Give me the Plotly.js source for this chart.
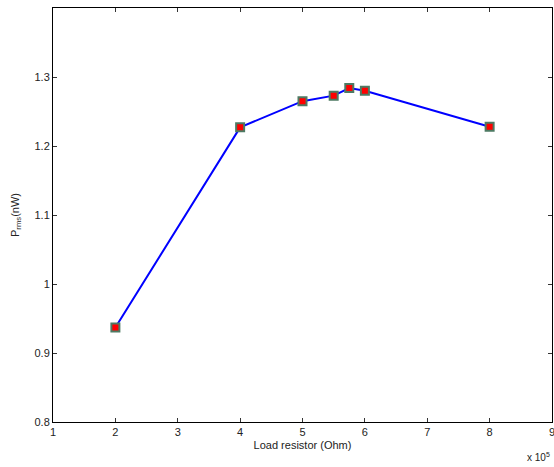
<!DOCTYPE html>
<html>
<head>
<meta charset="utf-8">
<script src="https://cdn.plot.ly/plotly-3.0.1.min.js"></script>
<style>html,body{margin:0;padding:0;background:#fff;}#chart{width:554px;height:467px;}</style>
</head>
<body>
<div id="chart"></div>
<script>
// Load resistor in units of 1e5 Ohm
var loadResistor = [2, 4, 5, 5.5, 5.75, 6, 8];
// RMS power (nW)
var powerRms = [0.937, 1.227, 1.265, 1.273, 1.284, 1.280, 1.228];
var xTicks = [1, 2, 3, 4, 5, 6, 7, 8, 9];
var yTicks = [0.8, 0.9, 1, 1.1, 1.2, 1.3];
var yTickLabels = ['0.8', '0.9', '1', '1.1', '1.2', '1.3'];

var trace = {
  x: loadResistor,
  y: powerRms,
  type: 'scatter',
  mode: 'lines+markers',
  line: {color: '#0000ff', width: 2},
  marker: {symbol: 'square', size: 8, color: '#ff0000', line: {color: '#4d7a63', width: 2}},
  showlegend: false
};

var axisCommon = {
  showline: true, linecolor: '#000', linewidth: 1, mirror: 'ticks',
  ticks: 'inside', ticklen: 4, tickcolor: '#333', showgrid: false, zeroline: false,
  ticklabeloverflow: 'allow',
  tickfont: {family: 'Liberation Sans, Arial, sans-serif', size: 11, color: '#222'}
};

var layout = {
  width: 554, height: 467,
  margin: {l: 53, r: 2, t: 8, b: 45},
  paper_bgcolor: '#fff', plot_bgcolor: '#fff',
  font: {family: 'Liberation Sans, Arial, sans-serif', size: 11, color: '#222'},
  xaxis: Object.assign({}, axisCommon, {
    range: [1, 9], tickmode: 'array', tickvals: xTicks,
    title: {text: 'Load resistor (Ohm)', font: {size: 11}, standoff: 4}
  }),
  yaxis: Object.assign({}, axisCommon, {
    range: [0.8, 1.4], tickmode: 'array', tickvals: yTicks, ticktext: yTickLabels,
    title: {text: 'P<sub>rms</sub>(nW)', font: {size: 11}, standoff: 12}
  }),
  annotations: [{
    xref: 'paper', yref: 'paper', x: 1, y: 0, xanchor: 'right', yanchor: 'top',
    yshift: -27, showarrow: false, text: 'x 10<sup>5</sup>',
    font: {size: 10, color: '#222'}
  }]
};

Plotly.newPlot('chart', [trace], layout, {displayModeBar: false, staticPlot: true});
</script>
</body>
</html>
